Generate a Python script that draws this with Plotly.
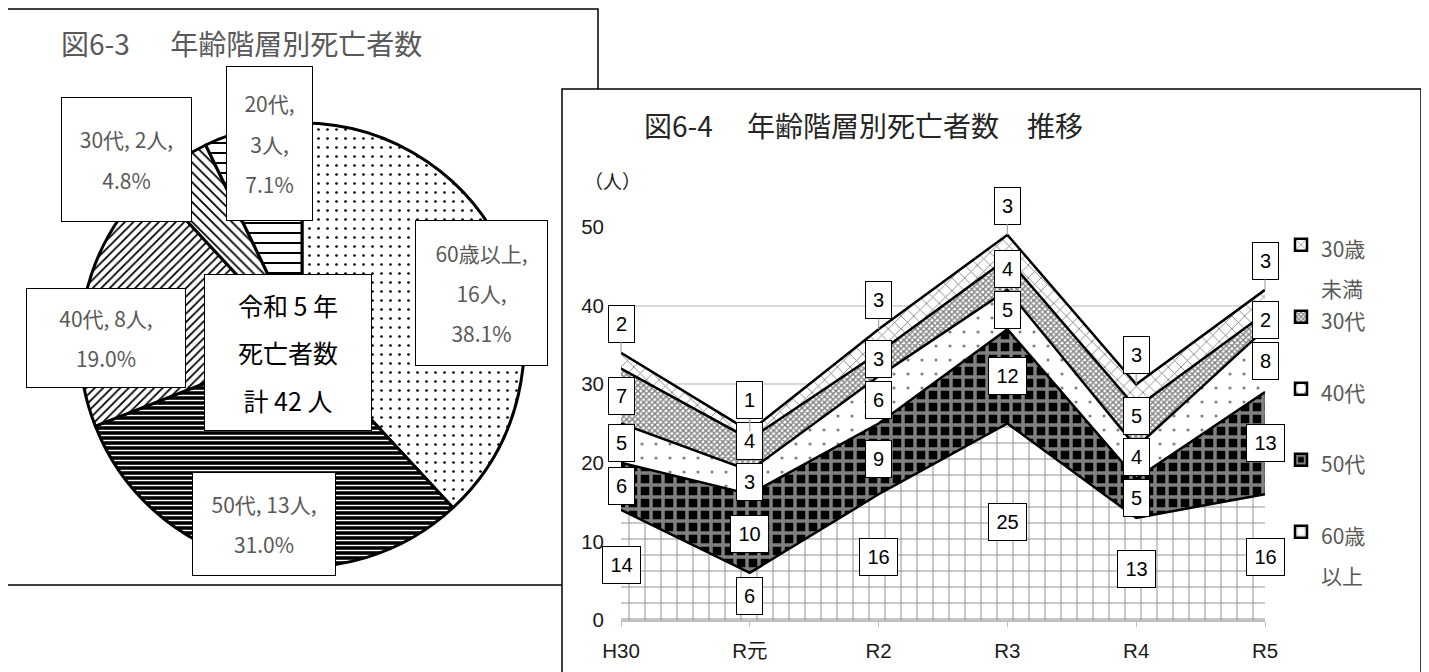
import plotly.graph_objects as go

W, H = 1429, 672
OFF = 8  # the page body margin shifts the figure by this much
FONT_JP = "Noto Sans CJK JP, sans-serif"
FONT_NUM = "Liberation Sans, Arial, Noto Sans CJK JP, sans-serif"
GRAY_TXT = "#595959"

# 図6-3 令和5年 年齢階層別死亡者数 (pie)
pie_labels = ["60歳以上", "50代", "40代", "30代", "20代"]
pie_values = [16, 13, 8, 2, 3]
pie_year = "令和 5 年"

# 図6-4 年齢階層別死亡者数 推移 (stacked area)
years = ["H30", "R元", "R2", "R3", "R4", "R5"]
area_names = ["60歳以上", "50代", "40代", "30代", "30歳未満"]
deaths_60plus = [14, 6, 16, 25, 13, 16]
deaths_50s = [6, 10, 9, 12, 5, 13]
deaths_40s = [5, 3, 6, 5, 4, 8]
deaths_30s = [7, 4, 3, 4, 5, 2]
deaths_under30 = [2, 1, 3, 3, 3, 3]
legend_lines = {"60歳以上": ["60歳", "以上"], "30歳未満": ["30歳", "未満"]}
y_ticks = [0, 10, 20, 30, 40, 50]

area_series = [deaths_60plus, deaths_50s, deaths_40s, deaths_30s, deaths_under30]

# layout in pixels (screen coordinates)
PLOT_L, PLOT_R, PLOT_T, PLOT_B = 621, 1265, 227, 620
Y_MAX = 50
LEGEND_X = 1281
LEGEND_ROWS = [248, 320, 392, 463, 535]  # y of each legend key, top to bottom


def fx(x):
    return (x - OFF) / W


def fy(y):
    return 1 - (y - OFF) / H


def ypix(v):
    return PLOT_B - v * (PLOT_B - PLOT_T) / Y_MAX


def box_note(x0, y0, x1, y1, lines, size, base, color):
    # text box with a fixed size, like the excel data callouts
    return dict(
        xref="paper", yref="paper", x=fx(x0), y=fy(y0),
        xanchor="left", yanchor="top",
        width=x1 - x0 - 2, height=y1 - y0 - 2,
        borderwidth=1, borderpad=0, bordercolor="black", bgcolor="white",
        showarrow=False, align="center", valign="middle",
        text="<br>".join(f"<span style='font-size:{size}px'>{t}</span>" for t in lines),
        font=dict(size=base, color=color, family=FONT_JP),
    )


fig = go.Figure()

# ---- pie ----
pie_pattern = dict(
    shape=[".", "-", "/", "\\", "-"],
    fgcolor=["black", "white", "black", "black", "black"],
    bgcolor=["white", "black", "white", "white", "white"],
    size=[9, 5, 6, 7, 10],
    solidity=[0.07, 0.28, 0.3, 0.25, 0.2],
)
fig.add_trace(go.Pie(
    labels=pie_labels, values=pie_values, sort=False,
    direction="clockwise", rotation=0, textinfo="none", showlegend=False,
    domain=dict(x=[fx(80), fx(524)], y=[fy(567), fy(123)]),
    marker=dict(colors=["white"] * len(pie_labels),
                line=dict(color="black", width=3), pattern=pie_pattern),
))

# ---- stacked area ----
area_patterns = [
    dict(shape="+", fgcolor="#222222", bgcolor="white", size=16, solidity=0.12),
    dict(shape="+", fgcolor="white", bgcolor="black", size=12, solidity=0.5),
    dict(shape=".", fgcolor="black", bgcolor="white", size=14, solidity=0.04),
    dict(shape="x", fgcolor="black", bgcolor="white", size=4, solidity=0.6),
    dict(shape="x", fgcolor="black", bgcolor="white", size=9, solidity=0.18),
]

# legend keys (top to bottom), square swatches like excel, one legend per row
legend_ids = []
for j, (name, pat) in enumerate(reversed(list(zip(area_names, area_patterns)))):
    lid = "legend" if j == 0 else f"legend{j + 1}"
    legend_ids.append(lid)
    lines = legend_lines.get(name, [name])
    fig.add_trace(go.Bar(
        x=[None], y=[None], legend=lid,
        name="<br>".join(f"<span style='font-size:21px'>{t}</span>" for t in lines),
        legendgroup=name, showlegend=True, hoverinfo="skip",
        marker=dict(color="white", pattern=pat, line=dict(color="black", width=2.5)),
    ))

for name, vals, pat in zip(area_names, area_series, area_patterns):
    fig.add_trace(go.Scatter(
        x=years, y=vals, name=name, stackgroup="one", mode="lines",
        line=dict(color="black", width=2.5), fillcolor="white", fillpattern=pat,
        showlegend=False, legendgroup=name,
    ))

annotations = []

# data labels at the middle of each band, pushed apart when they collide
for i, cat in enumerate(years):
    base = 0
    total = sum(s[i] for s in area_series)
    prev_c = None
    for k, vals in enumerate(area_series):
        v = vals[i]
        top = k == len(area_series) - 1
        if top:
            anchor = total
            c = ypix(total) - 10 - 19
        else:
            anchor = base + v / 2
            c = ypix(anchor)
        if prev_c is not None:
            c = min(c, prev_c - 41)
        shift = c - ypix(anchor)
        note = dict(
            xref="x", yref="y", x=i, y=anchor, text=str(v),
            font=dict(size=20, color="black", family=FONT_NUM),
            bgcolor="white", bordercolor="black", borderwidth=1, borderpad=0,
            width=13 + 12 * len(str(v)), height=36, align="center", valign="middle",
        )
        if top:
            note.update(showarrow=True, ax=0, ay=shift, arrowhead=0,
                        arrowwidth=1.2, arrowcolor="#a6a6a6", standoff=0)
        else:
            note.update(showarrow=False, yshift=-shift)
        annotations.append(note)
        base += v
        prev_c = c

# pie callouts
total = sum(pie_values)
pie_boxes = {
    "60歳以上": (415, 220, 548, 366, 3),
    "50代": (192, 472, 336, 576, 2),
    "40代": (26, 288, 186, 388, 2),
    "30代": (61, 97, 192, 222, 2),
    "20代": (226, 66, 313, 221, 3),
}
for lab, v in zip(pie_labels, pie_values):
    x0, y0, x1, y1, n = pie_boxes[lab]
    pct = f"{100 * v / total:.1f}%"
    if n == 3:
        lines = [f"{lab},", f"{v}人,", pct]
    else:
        lines = [f"{lab}, {v}人,", pct]
    annotations.append(box_note(x0, y0, x1, y1, lines, 21, 31, GRAY_TXT))

annotations.append(box_note(204, 274, 372, 431,
                            [pie_year, "死亡者数", f"計 {total} 人"], 25, 36.5, "black"))

# titles
annotations.append(dict(
    xref="paper", yref="paper", x=fx(59), y=fy(43), xanchor="left", yanchor="middle",
    text="図6-3\u3000\u00a0\u00a0年齢階層別死亡者数", showarrow=False,
    font=dict(size=28, color=GRAY_TXT, family=FONT_JP),
))
annotations.append(dict(
    xref="paper", yref="paper", x=fx(642), y=fy(125), xanchor="left", yanchor="middle",
    text="図6-4\u3000\u00a0年齢階層別死亡者数\u3000推移", showarrow=False,
    font=dict(size=28, color="#262626", family=FONT_JP),
))
annotations.append(dict(
    xref="paper", yref="paper", x=fx(612), y=fy(180), xanchor="center", yanchor="middle",
    text="（人）", showarrow=False, font=dict(size=19, color="#1a1a1a", family=FONT_JP),
))

shapes = [
    dict(type="rect", xref="paper", yref="paper", x0=fx(7), x1=fx(598), y0=fy(585), y1=fy(9),
         line=dict(color="black", width=1.5), fillcolor="white", layer="below"),
    dict(type="rect", xref="paper", yref="paper", x0=fx(562), x1=fx(1421), y0=fy(700), y1=fy(89),
         line=dict(color="black", width=1.5), fillcolor="white", layer="below"),
]

fig.update_layout(
    width=W, height=H, margin=dict(l=0, r=0, t=0, b=0, pad=0, autoexpand=False),
    paper_bgcolor="white", plot_bgcolor="rgba(0,0,0,0)",
    font=dict(family=FONT_JP),
    xaxis=dict(
        domain=[fx(PLOT_L), fx(PLOT_R)], type="category", automargin=False,
        categoryorder="array", categoryarray=years, range=[0, len(years) - 1],
        showgrid=False, zeroline=False, showline=True, linecolor="#bfbfbf", linewidth=1.5,
        ticks="outside", ticklen=5, tickcolor="#bfbfbf", ticklabelstandoff=7,
        tickfont=dict(size=20.5, color="#1a1a1a", family=FONT_NUM), fixedrange=True,
    ),
    yaxis=dict(
        domain=[fy(PLOT_B), fy(PLOT_T)], range=[0, Y_MAX], tickvals=y_ticks, automargin=False,
        showgrid=True, gridcolor="#d9d9d9", gridwidth=1.5, zeroline=False, showline=False,
        ticks="", ticklabelstandoff=16,
        tickfont=dict(size=20.5, color="#1a1a1a", family=FONT_NUM), fixedrange=True,
    ),
    annotations=annotations,
    shapes=shapes,
)

for lid, row in zip(legend_ids, LEGEND_ROWS):
    fig.update_layout({lid: dict(
        x=fx(LEGEND_X), y=fy(row - 30), xanchor="left", yanchor="top", valign="top",
        font=dict(size=31, color=GRAY_TXT, family=FONT_JP), bgcolor="rgba(0,0,0,0)",
    )})

fig.write_html("out.html")
